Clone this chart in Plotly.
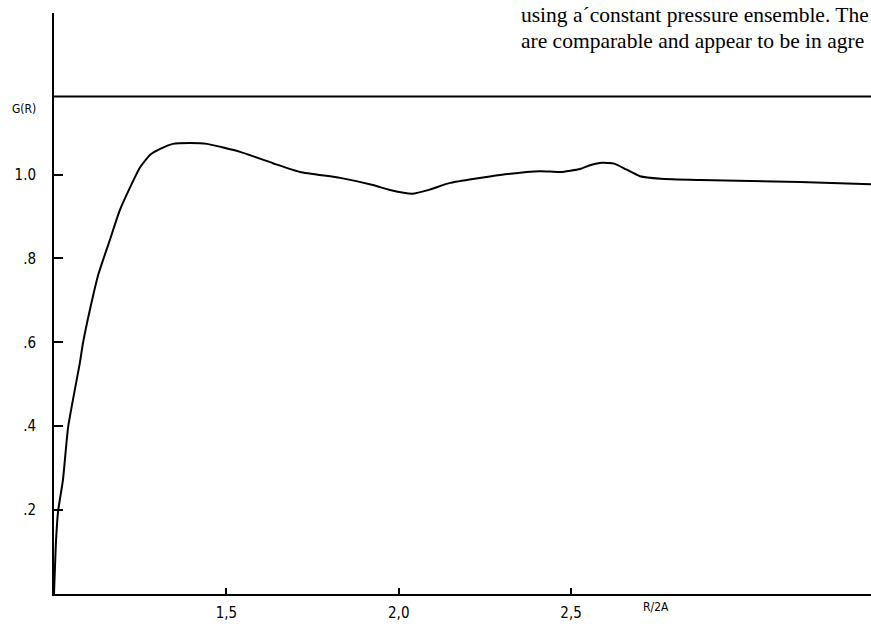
import plotly.graph_objects as go

# g(R) vs R/2A
r_over_2a = [1.0, 1.006, 1.012, 1.026, 1.041, 1.075, 1.084, 1.104, 1.128, 1.162,
             1.191, 1.220, 1.249, 1.279, 1.308, 1.345, 1.395, 1.444, 1.540, 1.635,
             1.714, 1.830, 1.925, 1.975, 2.039, 2.090, 2.149, 2.294, 2.410, 2.468,
             2.526, 2.555, 2.590, 2.625, 2.660, 2.700, 2.760, 2.874, 3.164, 3.370]
g_r = [0.0, 0.129, 0.198, 0.272, 0.398, 0.551, 0.598, 0.677, 0.760, 0.844,
       0.915, 0.968, 1.016, 1.047, 1.061, 1.073, 1.075, 1.073, 1.054, 1.027,
       1.006, 0.992, 0.975, 0.963, 0.954, 0.964, 0.980, 0.999, 1.008, 1.006,
       1.013, 1.022, 1.028, 1.026, 1.012, 0.996, 0.990, 0.987, 0.982, 0.977]

x_tickvals = [1.5, 2.0, 2.5]
x_ticktext = ["1,5", "2,0", "2,5"]
y_tickvals = [0.2, 0.4, 0.6, 0.8, 1.0]
y_ticktext = [".2", ".4", ".6", ".8", "1.0"]
ref_line_level = 1.186
text_lines = ["using a\u00b4constant pressure ensemble. The",
              "are comparable and appear to be in agre"]

label_font = dict(family="DejaVu Sans Condensed, sans-serif", size=15, color="black")

fig = go.Figure()
fig.add_trace(go.Scatter(x=r_over_2a, y=g_r, mode="lines",
                         line=dict(color="black", width=2, shape="spline", smoothing=0.5),
                         showlegend=False, hoverinfo="skip"))

fig.add_shape(type="line", xref="paper", yref="y", x0=0, x1=1,
              y0=ref_line_level, y1=ref_line_level,
              line=dict(color="black", width=2))

fig.update_layout(
    width=871, height=624,
    margin=dict(l=54, r=0, t=13, b=30),
    paper_bgcolor="white", plot_bgcolor="white",
    showlegend=False,
    xaxis=dict(range=[1.0, 3.37], showgrid=False, zeroline=False,
               showline=True, linecolor="black", linewidth=2,
               ticks="inside", ticklen=6, tickwidth=2, tickcolor="black",
               tickvals=x_tickvals, ticktext=x_ticktext,
               tickfont=label_font, ticklabelstandoff=4),
    yaxis=dict(range=[0, 1.385], showgrid=False, zeroline=False,
               showline=True, linecolor="black", linewidth=2,
               ticks="inside", ticklen=9, tickwidth=2, tickcolor="black",
               tickvals=y_tickvals, ticktext=y_ticktext,
               tickfont=label_font, ticklabelstandoff=13),
)

fig.add_annotation(text="G(R)", xref="paper", yref="paper", x=-0.0367, y=0.835,
                   xanchor="center", yanchor="middle", showarrow=False,
                   font=dict(family=label_font["family"], size=12, color="black"))
fig.add_annotation(text="R/2A", xref="x", yref="paper", x=2.746, y=0,
                   xanchor="center", yanchor="top", yshift=-4, showarrow=False,
                   font=dict(family=label_font["family"], size=12, color="black"))

for i, line in enumerate(text_lines):
    fig.add_annotation(text=line, xref="x", yref="paper", x=2.349, y=1.0,
                       xanchor="left", yanchor="top", yshift=13 - 1 - 26 * i,
                       showarrow=False,
                       font=dict(family="Liberation Serif, Times New Roman, serif",
                                 size=21.5, color="black"))

fig.write_html("out.html")
